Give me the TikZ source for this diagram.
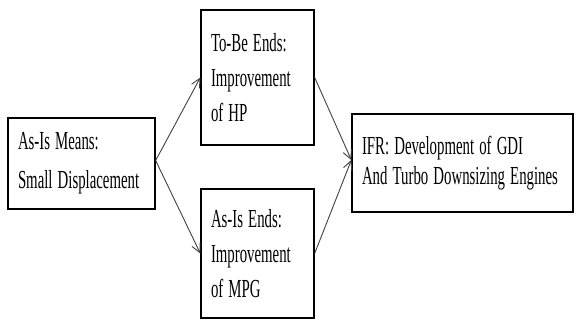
\documentclass[tikz,border=0pt]{standalone}
\usepackage{graphicx}
\usepackage{fontspec}
\setmainfont{Liberation Serif}
\usetikzlibrary{arrows.meta}
\newcommand\sqz[1]{\scalebox{0.57}[1]{\spaceskip=9pt\relax\xspaceskip=9pt\relax #1}}
\begin{document}
\begin{tikzpicture}[x=1pt,y=1pt,
  box/.style={draw=black,line width=1.3pt,rectangle,align=left,inner xsep=10pt,inner ysep=0pt,anchor=center},
  conn/.style={draw=black!75,line width=0.9pt,-{Straight Barb[length=9pt,width=9pt,line width=0.9pt]}}]
\useasboundingbox (0,0) rectangle (579,324);
\node[box,text width=127pt,minimum height=91pt,font=\fontsize{26}{39}\selectfont] (L) at (81.5,160.5) {\sqz{As-Is Means:}\\\sqz{Small Displacement}};
\node[box,text width=93pt,minimum height=135pt,font=\fontsize{26}{35}\selectfont] (T) at (257.5,246.5) {\sqz{To-Be Ends:}\\\sqz{Improvement}\\\sqz{of HP}};
\node[box,text width=93pt,minimum height=129pt,font=\fontsize{26}{35}\selectfont] (B) at (257.5,70.5) {\sqz{As-Is Ends:}\\\sqz{Improvement}\\\sqz{of MPG}};
\node[box,text width=201pt,minimum height=98pt,font=\fontsize{26}{30}\selectfont] (R) at (462.5,161) {\sqz{IFR: Development of GDI}\\\sqz{And Turbo Downsizing Engines}};
\draw[conn] ([yshift=3pt]L.east) -- (T.west);
\draw[conn] ([yshift=3pt]L.east) -- (B.west);
\draw[conn] (T.east) -- ([yshift=3pt]R.west);
\draw[conn] (B.east) -- ([yshift=3pt]R.west);
\end{tikzpicture}
\end{document}
